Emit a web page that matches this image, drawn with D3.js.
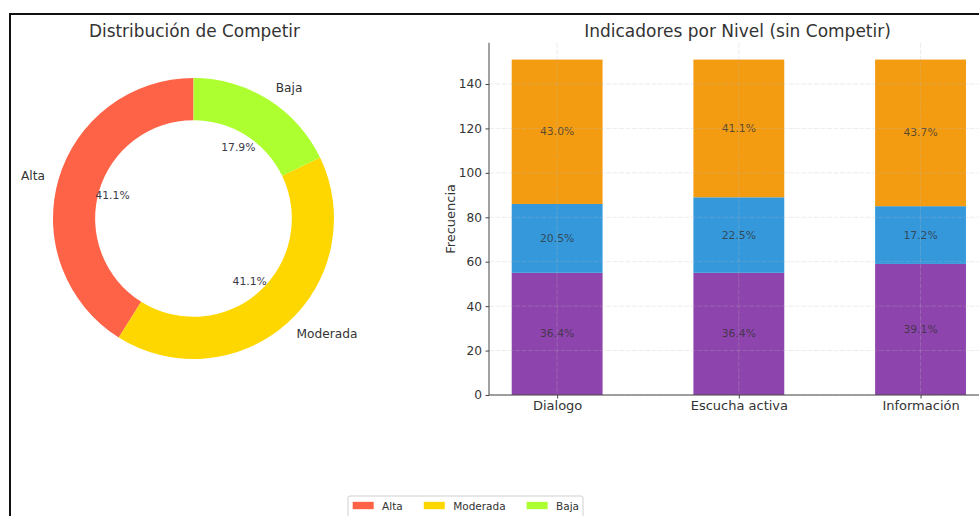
<!DOCTYPE html>
<html>
<head>
<meta charset="utf-8">
<script src="https://cdn.jsdelivr.net/npm/d3@7"></script>
<style>
  html, body { margin: 0; padding: 0; background: #fff; }
  svg { display: block; font-family: "DejaVu Sans", sans-serif; }
</style>
</head>
<body>
<svg id="chart" width="979" height="516"></svg>
<script>
// Donut: distribution of "Competir"
const pieLabels = ["Alta", "Moderada", "Baja"];
const pieCounts = [23, 23, 10];
const pieColors = ["#ff6347", "#ffd700", "#adff2f"];

// Stacked bars: indicators by level
const categories = ["Dialogo", "Escucha activa", "Información"];
const lowerCounts = [55, 55, 59];
const middleCounts = [31, 34, 26];
const upperCounts = [65, 62, 66];
const stackColors = ["#8e44ad", "#3498db", "#f39c12"];
const yTicks = [0, 20, 40, 60, 80, 100, 120, 140];

const svg = d3.select("#chart");
const textColor = "#333";
const pct = d3.format(".1%");

// Outer frame
svg.append("path")
  .attr("d", "M10,520 L10,14 L985,14")
  .attr("fill", "none")
  .attr("stroke", "#111")
  .attr("stroke-width", 2);

// ---------- Donut ----------
const cx = 193.5, cy = 218.5, R = 140.5, r = R * 0.7;
const pie = d3.pie().sort(null).value(d => d).startAngle(0).endAngle(-2 * Math.PI);
const arcs = pie(pieCounts);
const total = d3.sum(pieCounts);
const arc = d3.arc().innerRadius(r).outerRadius(R);
const gPie = svg.append("g").attr("transform", `translate(${cx},${cy})`);

gPie.selectAll("path.slice").data(arcs).join("path")
  .attr("class", "slice")
  .attr("d", arc)
  .attr("fill", (d, i) => pieColors[i]);

const midAngle = d => (d.startAngle + d.endAngle) / 2;
gPie.selectAll("text.plabel").data(arcs).join("text")
  .attr("class", "plabel")
  .attr("x", d => Math.sin(midAngle(d)) * R * 1.1)
  .attr("y", d => -Math.cos(midAngle(d)) * R * 1.1)
  .attr("text-anchor", d => Math.sin(midAngle(d)) >= 0 ? "start" : "end")
  .attr("dominant-baseline", "central")
  .attr("font-size", 12.2)
  .attr("fill", textColor)
  .text((d, i) => pieLabels[i]);

gPie.selectAll("text.ppct").data(arcs).join("text")
  .attr("class", "ppct")
  .attr("x", d => Math.sin(midAngle(d)) * R * 0.6)
  .attr("y", d => -Math.cos(midAngle(d)) * R * 0.6)
  .attr("text-anchor", "middle")
  .attr("dominant-baseline", "central")
  .attr("font-size", 10.8)
  .attr("fill", "#3a3a48")
  .text(d => pct(d.value / total));

svg.append("text")
  .attr("x", 194.5).attr("y", 31)
  .attr("text-anchor", "middle")
  .attr("dominant-baseline", "central")
  .attr("font-size", 16.9)
  .attr("fill", textColor)
  .text("Distribución de Competir");

// ---------- Stacked bars ----------
const rows = categories.map((c, i) => ({
  cat: c, lower: lowerCounts[i], middle: middleCounts[i], upper: upperCounts[i]
}));
const keys = ["lower", "middle", "upper"];
const stack = d3.stack().keys(keys)(rows);
const maxTotal = d3.max(rows, d => d.lower + d.middle + d.upper);

const x0 = 489, y0 = 395;
const x = d3.scaleLinear().domain([-0.375, 2.375]).range([x0, x0 + 2.75 * 181.7]);
const y = d3.scaleLinear().domain([0, maxTotal * 1.05]).range([y0, y0 - maxTotal * 1.05 * 2.2214]);
const bw = x(0.25) - x(-0.25);

const gBars = svg.append("g");
stack.forEach((layer, li) => {
  gBars.selectAll(null).data(layer).join("rect")
    .attr("x", (d, i) => x(i) - bw / 2)
    .attr("width", bw)
    .attr("y", d => y(d[1]))
    .attr("height", d => y(d[0]) - y(d[1]))
    .attr("fill", stackColors[li]);
});

// grid on top, faint
const gGrid = svg.append("g")
  .attr("stroke", "#b8b8b8")
  .attr("stroke-opacity", 0.35)
  .attr("stroke-width", 0.8)
  .attr("stroke-dasharray", "5,1.5");
gGrid.selectAll("line.h").data(yTicks).join("line")
  .attr("class", "h")
  .attr("x1", x0).attr("x2", 979)
  .attr("y1", d => y(d)).attr("y2", d => y(d));
gGrid.selectAll("line.v").data(categories).join("line")
  .attr("class", "v")
  .attr("x1", (d, i) => x(i)).attr("x2", (d, i) => x(i))
  .attr("y1", y.range()[1]).attr("y2", y0);

// segment percentages
stack.forEach((layer, li) => {
  gBars.selectAll(null).data(layer).join("text")
    .attr("x", (d, i) => x(i))
    .attr("y", d => y((d[0] + d[1]) / 2))
    .attr("text-anchor", "middle")
    .attr("dominant-baseline", "central")
    .attr("font-size", 10.8)
    .attr("fill", "#333")
    .attr("fill-opacity", 0.8)
    .text(d => {
      const t = d.data.lower + d.data.middle + d.data.upper;
      return pct((d[1] - d[0]) / t);
    });
});

// axes
const yAxis = d3.axisLeft(y).tickValues(yTicks).tickSize(3.5).tickPadding(3.5);
const gy = svg.append("g").attr("transform", `translate(${x0},0)`).call(yAxis);
gy.select(".domain").attr("d", `M0,${y.range()[1]}V${y0}`).attr("stroke", "#444");
gy.selectAll(".tick line").attr("stroke", "#444");
gy.selectAll(".tick text").attr("font-size", 12.2).attr("fill", "#333")
  .attr("font-family", "DejaVu Sans, sans-serif");

const xAxis = d3.axisBottom(x).tickValues([0, 1, 2]).tickFormat(i => categories[i]).tickSize(3.5).tickPadding(2);
const gx = svg.append("g").attr("transform", `translate(0,${y0})`).call(xAxis);
gx.select(".domain").attr("d", `M${x0},0H979`).attr("stroke", "#444");
gx.selectAll(".tick line").attr("stroke", "#444");
gx.selectAll(".tick text").attr("font-size", 13).attr("fill", "#333")
  .attr("font-family", "DejaVu Sans, sans-serif");

svg.append("text")
  .attr("transform", `translate(450,${(y.range()[1] + y0) / 2}) rotate(-90)`)
  .attr("text-anchor", "middle")
  .attr("dominant-baseline", "central")
  .attr("font-size", 13)
  .attr("fill", textColor)
  .text("Frecuencia");

svg.append("text")
  .attr("x", 737.5).attr("y", 31)
  .attr("text-anchor", "middle")
  .attr("dominant-baseline", "central")
  .attr("font-size", 17)
  .attr("fill", textColor)
  .text("Indicadores por Nivel (sin Competir)");

// ---------- Legend ----------
const fs = 10.5;
const gLeg = svg.append("g");
gLeg.append("rect")
  .attr("x", 348).attr("y", 496).attr("width", 235).attr("height", 22)
  .attr("rx", 2)
  .attr("fill", "#fff").attr("stroke", "#d0d0d0").attr("stroke-width", 1);
let lx = 348 + 0.4 * fs + 0.5;
const ly = 505.5;
pieLabels.forEach((lab, i) => {
  gLeg.append("rect")
    .attr("x", lx).attr("y", ly - 0.35 * fs)
    .attr("width", 2 * fs).attr("height", 0.7 * fs)
    .attr("fill", pieColors[i]);
  lx += 2.8 * fs;
  const t = gLeg.append("text")
    .attr("x", lx).attr("y", ly)
    .attr("dominant-baseline", "central")
    .attr("font-size", fs)
    .attr("fill", "#333")
    .text(lab);
  lx += t.node().getComputedTextLength() + 2 * fs;
});
</script>
</body>
</html>
